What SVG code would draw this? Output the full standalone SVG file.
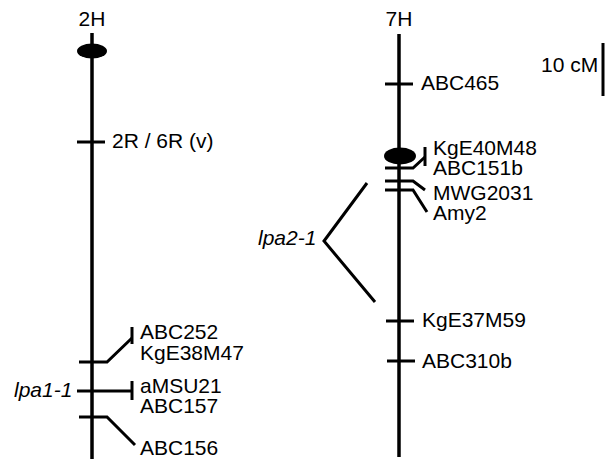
<svg xmlns="http://www.w3.org/2000/svg" width="605" height="459" viewBox="0 0 605 459">
<style>
text{font-family:"Liberation Sans",Arial,sans-serif;font-size:21px;fill:#000}
.it{font-style:italic}
.c{text-anchor:middle}
.ln{stroke:#000;stroke-width:3;fill:none;stroke-linejoin:miter}
.chr{stroke:#000;stroke-width:3.5;fill:none}
</style>
<rect width="605" height="459" fill="#fff"/>
<g id="chr2H">
<text class="c" x="92" y="26">2H</text>
<line class="chr" x1="92" y1="33" x2="92" y2="459"/>
<ellipse cx="92" cy="51" rx="15" ry="7.5" fill="#000"/>
</g>
<g id="chr7H">
<text class="c" x="399" y="26">7H</text>
<line class="chr" x1="399" y1="34" x2="399" y2="457"/>
<ellipse cx="400" cy="156" rx="16" ry="8.5" fill="#000"/>
</g>
<g id="scale">
<line class="ln" x1="603" y1="43" x2="603" y2="96"/>
<text x="541" y="72">10 cM</text>
</g>
<g id="connectors">
<line class="ln" x1="77" y1="142" x2="105" y2="142"/>
<polyline class="ln" points="79,362 107,362 132,338"/>
<line class="ln" x1="132" y1="327" x2="132" y2="344"/>
<line class="ln" x1="77" y1="391" x2="132" y2="391"/>
<line class="ln" x1="132" y1="381" x2="132" y2="400"/>
<polyline class="ln" points="79,417 107,417 135,445"/>
<line class="ln" x1="385" y1="84" x2="413" y2="84"/>
<polyline class="ln" points="385,168 413,168 425,157"/>
<line class="ln" x1="425" y1="147" x2="425" y2="166"/>
<polyline class="ln" points="385,181 413,181 425,190"/>
<polyline class="ln" points="385,190 413,190 427,212"/>
<polyline class="ln" points="367,183 324,241 375,302"/>
<line class="ln" x1="386" y1="321" x2="414" y2="321"/>
<line class="ln" x1="387" y1="361" x2="415" y2="361"/>
</g>
<g id="labels">
<text x="112" y="148">2R / 6R (v)</text>
<text x="140" y="339">ABC252</text>
<text x="140" y="360">KgE38M47</text>
<text x="140" y="393">aMSU21</text>
<text x="140" y="413">ABC157</text>
<text x="140" y="455">ABC156</text>
<text class="it" x="14" y="397">lpa1-1</text>
<text x="421" y="90">ABC465</text>
<text x="433" y="155">KgE40M48</text>
<text x="433" y="175">ABC151b</text>
<text x="433" y="200">MWG2031</text>
<text x="433" y="220">Amy2</text>
<text class="it" x="258" y="245">lpa2-1</text>
<text x="422" y="327">KgE37M59</text>
<text x="422" y="368">ABC310b</text>
</g>
</svg>
